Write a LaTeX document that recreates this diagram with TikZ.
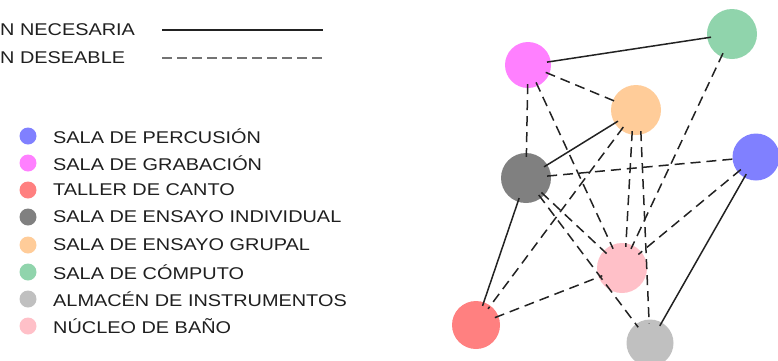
\documentclass[tikz,border=0pt]{standalone}
\usepackage{fontspec}
\usepackage{graphicx}
\setmainfont{Liberation Sans}
\definecolor{cperc}{HTML}{8080FF}
\definecolor{cgrab}{HTML}{FF80FF}
\definecolor{ctall}{HTML}{FF8080}
\definecolor{cindi}{HTML}{808080}
\definecolor{cgrup}{HTML}{FFCC99}
\definecolor{ccomp}{HTML}{90D4AC}
\definecolor{calma}{HTML}{C0C0C0}
\definecolor{cnucl}{HTML}{FFC0C8}
\definecolor{edgec}{HTML}{222222}
\newcommand{\lbl}[1]{\scalebox{1.17}[1]{\fontsize{17pt}{19pt}\selectfont #1}}
\begin{document}
\begin{tikzpicture}[x=1pt,y=-1pt,
  room/.style={circle,draw=none,inner sep=0pt,minimum size=#1},
  room/.default=48pt,
  dot/.style={circle,draw=none,inner sep=0pt,minimum size=17pt},
  legtext/.style={anchor=west,inner sep=0pt,text=black!88},
  nec/.style={draw=edgec,line width=1.5pt,shorten <=-4pt,shorten >=-4pt},
  des/.style={draw=edgec,line width=1.5pt,dash pattern=on 10pt off 6pt,shorten <=-4pt,shorten >=-4pt},
  legnec/.style={draw=edgec,line width=1.5pt},
  legdes/.style={draw=black!55,line width=1.4pt,dash pattern=on 10pt off 5pt}]
\useasboundingbox (0,0) rectangle (778,360);
% top legend
\node[legtext] (tnec) at (0,30) {\lbl{N NECESARIA}};
\node[legtext] (tdes) at (0,58) {\lbl{N DESEABLE}};
\coordinate (n1) at (162,30); \coordinate (n2) at (323,30);
\coordinate (d1) at (162,58); \coordinate (d2) at (323,58);
\draw[legnec] (n1) -- (n2);
\draw[legdes] (d1) -- (d2);
% color legend
\node[dot,fill=cperc] (l1) at (28,136) {};
\node[dot,fill=cgrab] (l2) at (28,163) {};
\node[dot,fill=ctall] (l3) at (28,190) {};
\node[dot,fill=cindi] (l4) at (28,217) {};
\node[dot,fill=cgrup] (l5) at (28,245) {};
\node[dot,fill=ccomp] (l6) at (28,272) {};
\node[dot,fill=calma] (l7) at (28,299) {};
\node[dot,fill=cnucl] (l8) at (28,326) {};
\node[legtext] (t1) at (53,136) {\lbl{SALA DE PERCUSIÓN}};
\node[legtext] (t2) at (53,163) {\lbl{SALA DE GRABACIÓN}};
\node[legtext] (t3) at (53,190) {\lbl{TALLER DE CANTO}};
\node[legtext] (t4) at (53,217) {\lbl{SALA DE ENSAYO INDIVIDUAL}};
\node[legtext] (t5) at (53,245) {\lbl{SALA DE ENSAYO GRUPAL}};
\node[legtext] (t6) at (53,272) {\lbl{SALA DE CÓMPUTO}};
\node[legtext] (t7) at (53,299) {\lbl{ALMACÉN DE INSTRUMENTOS}};
\node[legtext] (t8) at (53,326) {\lbl{NÚCLEO DE BAÑO}};
% graph nodes
\node[room=46pt,fill=cgrab] (grab) at (528,65) {};
\node[room=50pt,fill=ccomp] (comp) at (732,34) {};
\node[room=50pt,fill=cgrup] (grup) at (636,110) {};
\node[room=47pt,fill=cperc] (perc) at (756,157) {};
\node[room=50pt,fill=cindi] (indi) at (526,178) {};
\node[room=50pt,fill=cnucl] (nucl) at (622,268) {};
\node[room=48pt,fill=ctall] (tall) at (476,325) {};
\node[room=47pt,fill=calma] (alma) at (650,343) {};
% necessary relations
\draw[nec] (grab) -- (comp);
\draw[nec] (grup) -- (indi);
\draw[nec] (indi) -- (tall);
\draw[nec] (perc) -- (alma);
% desirable relations
\draw[des] (grab) -- (grup);
\draw[des] (grab) -- (indi);
\draw[des] (grab) -- (nucl);
\draw[des] (comp) -- (nucl);
\draw[des] (indi) -- (perc);
\draw[des] (grup) -- (tall);
\draw[des] ([xshift=-4pt]grup.south) -- ([xshift=4pt]nucl.north);
\draw[des] ([xshift=5pt]grup.south) -- (alma);
\draw[des] (indi) -- (nucl);
\draw[des] (indi) -- (alma);
\draw[des] (tall) -- (nucl);
\draw[des] (perc) -- (nucl);
\end{tikzpicture}
\end{document}
